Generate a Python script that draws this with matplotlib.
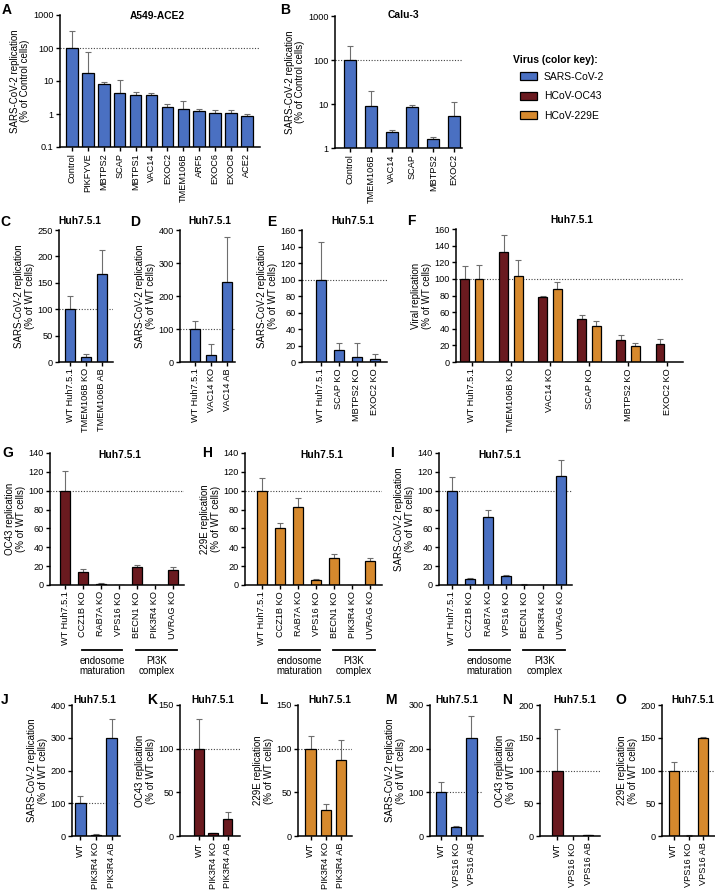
import matplotlib
matplotlib.use('Agg')
import matplotlib.pyplot as plt
import matplotlib.transforms as mtrans
from matplotlib.patches import Patch
import numpy as np

plt.rcParams['font.family'] = ['Liberation Sans', 'DejaVu Sans']
plt.rcParams['font.size'] = 6.5

W, H = 715, 896
BLUE = '#4a70c2'
RED = '#6a1a1f'
ORANGE = '#d6892d'

# ---- data: bar means and the top of each (upper) error bar ----
a_labels = ['Control', 'PIKFYVE', 'MBTPS2', 'SCAP', 'MBTPS1', 'VAC14', 'EXOC2',
            'TMEM106B', 'ARF5', 'EXOC6', 'EXOC8', 'ACE2']
a_vals = [100, 18, 8.3, 4.4, 3.8, 3.8, 1.6, 1.45, 1.2, 1.1, 1.05, 0.9]
a_tops = [320, 75, 9.5, 11, 4.5, 4.3, 1.95, 2.4, 1.4, 1.3, 1.3, 1.0]

b_labels = ['Control', 'TMEM106B', 'VAC14', 'SCAP', 'MBTPS2', 'EXOC2']
b_vals = [100, 9.2, 2.3, 8.7, 1.6, 5.2]
b_tops = [205, 20, 2.6, 9.4, 1.8, 11]

c_labels = ['WT Huh7.5.1', 'TMEM106B KO', 'TMEM106B AB']
c_vals = [100, 9, 167]
c_tops = [125, 16, 213]

d_labels = ['WT Huh7.5.1', 'VAC14 KO', 'VAC14 AB']
d_vals = [100, 22, 243]
d_tops = [125, 55, 378]

e_labels = ['WT Huh7.5.1', 'SCAP KO', 'MBTPS2 KO', 'EXOC2 KO']
e_vals = [100, 15, 6, 4]
e_tops = [146, 23, 23, 10]

f_labels = ['WT Huh7.5.1', 'TMEM106B KO', 'VAC14 KO', 'SCAP KO', 'MBTPS2 KO', 'EXOC2 KO']
f_oc43 = [100, 132, 78, 52, 26, 22]
f_oc43_tops = [116, 153, 80, 56, 33, 28]
f_229e = [100, 104, 88, 43, 19, 0]
f_229e_tops = [117, 123, 96, 49, 23, 0]

ghi_labels = ['WT Huh7.5.1', 'CCZ1B KO', 'RAB7A KO', 'VPS16 KO', 'BECN1 KO', 'PIK3R4 KO', 'UVRAG KO']
g_vals = [100, 14, 1.5, 0, 19, 0, 16]
g_tops = [121, 17.5, 2, 0, 21, 0, 19]
h_vals = [100, 60, 83, 5, 29, 0, 25]
h_tops = [113, 66, 92, 6.5, 33, 0, 29]
i_vals = [100, 6.5, 72, 9.5, 0.5, 0, 116]
i_tops = [115, 7.5, 80, 11, 1, 0, 133]
groups = ['endosome\nmaturation', 'PI3K\ncomplex']

pik_labels = ['WT', 'PIK3R4 KO', 'PIK3R4 AB']
j_vals = [100, 4, 300]
j_tops = [123, 6, 358]
k_vals = [100, 3, 20]
k_tops = [134, 4, 28]
l_vals = [100, 30, 87]
l_tops = [114, 37, 110]

vps_labels = ['WT', 'VPS16 KO', 'VPS16 AB']
m_vals = [100, 20, 224]
m_tops = [124, 24, 275]
n_vals = [100, 0, 1.5]
n_tops = [163, 0, 2]
o_vals = [100, 0.5, 149]
o_tops = [113, 1, 151]

lab_ctrl = 'SARS-CoV-2 replication\n(% of Control cells)'
lab_sars = 'SARS-CoV-2 replication\n(% of WT cells)'
lab_oc43 = 'OC43 replication\n(% of WT cells)'
lab_229e = '229E replication\n(% of WT cells)'
lab_viral = 'Viral replication\n(% of WT cells)'

fig = plt.figure(figsize=(W / 100, H / 100), dpi=100)


def px_axes(l, t, r, b):
    return fig.add_axes([l / W, 1 - b / H, (r - l) / W, (b - t) / H])


def put_bars(ax, x, vals, tops, color, width):
    ax.bar(x, vals, width=width, color=color, edgecolor='black', linewidth=0.9, zorder=2)
    keep = [i for i in range(len(vals)) if tops[i] > vals[i]]
    ax.errorbar([x[i] for i in keep], [vals[i] for i in keep],
                yerr=[[0] * len(keep), [tops[i] - vals[i] for i in keep]],
                fmt='none', ecolor='#6e6e6e', elinewidth=0.8, capsize=2.2,
                capthick=0.8, zorder=1.8)


def style(ax, xlim, ylim, yticks, ticklabels, xticks, ylabel, ytlabels=None):
    for s in ['top', 'right']:
        ax.spines[s].set_visible(False)
    for s in ['left', 'bottom']:
        ax.spines[s].set_linewidth(1.1)
    ax.axhline(100, ls=(0, (1, 1.5)), color='#444444', lw=0.8, zorder=0.5)
    ax.set_xlim(*xlim)
    ax.set_ylim(*ylim)
    ax.set_yticks(yticks)
    if ytlabels is not None:
        ax.set_yticklabels(ytlabels)
    ax.minorticks_off()
    ax.set_xticks(xticks)
    ax.set_xticklabels(ticklabels, rotation=90)
    ax.tick_params(length=3, width=1, pad=1.5, labelsize=6.6)
    ax.set_ylabel(ylabel, fontsize=7, labelpad=2, linespacing=1.1)


def title(x, y, s):
    fig.text(x / W, 1 - y / H, s, ha='center', va='center', fontsize=7.4, weight='bold')


def letter(x, y, s):
    fig.text(x / W, 1 - y / H, s, ha='left', va='center', fontsize=10, weight='bold')


def simple(box, labels, vals, tops, color, xlim, ylim, yticks, ylabel, width, ytl=None):
    ax = px_axes(*box)
    x = np.arange(len(labels))
    put_bars(ax, x, vals, tops, color, width)
    style(ax, xlim, ylim, yticks, labels, x, ylabel, ytl)
    return ax


# ---- row 1 ----
ax = simple((60, 15, 260, 147), a_labels, a_vals, a_tops, BLUE, (-0.75, 11.82),
            (0.1, 1000), [0.1, 1, 10, 100, 1000], lab_ctrl, 0.73,
            ['0.1', '1', '10', '100', '1000'])
ax.set_yscale('log')
ax.set_ylim(0.1, 1000)
ax.set_yticks([0.1, 1, 10, 100, 1000], ['0.1', '1', '10', '100', '1000'])
ax.minorticks_off()
title(157, 16, 'A549-ACE2')
letter(2, 10, 'A')

ax = simple((335, 16, 462, 148), b_labels, b_vals, b_tops, BLUE, (-0.72, 5.38),
            (1, 1000), [1, 10, 100, 1000], lab_ctrl, 0.58)
ax.set_yscale('log')
ax.set_ylim(1, 1000)
ax.set_yticks([1, 10, 100, 1000], ['1', '10', '100', '1000'])
ax.minorticks_off()
title(403, 15, 'Calu-3')
letter(280, 10, 'B')

# legend (colour key)
fig.text(513 / W, 1 - 60 / H, 'Virus (color key):', ha='left', va='center',
         fontsize=7.5, weight='bold')
handles = [Patch(facecolor=c, edgecolor='black', linewidth=0.9, label=n)
           for c, n in zip([BLUE, RED, ORANGE], ['SARS-CoV-2', 'HCoV-OC43', 'HCoV-229E'])]
fig.legend(handles=handles, loc='upper left', bbox_to_anchor=(520 / W, 1 - 72 / H),
           frameon=False, fontsize=7.5, handlelength=1.6, handleheight=0.8,
           labelspacing=0.9, handletextpad=0.7, borderpad=0, borderaxespad=0)

# ---- row 2 ----
simple((59, 230, 113, 362), c_labels, c_vals, c_tops, BLUE, (-0.69, 2.69),
       (0, 250), np.arange(0, 251, 50), lab_sars, 0.62)
title(80, 221, 'Huh7.5.1')
letter(0, 222, 'C')

simple((180, 230, 235, 362), d_labels, d_vals, d_tops, BLUE, (-0.94, 2.5),
       (0, 400), np.arange(0, 401, 100), lab_sars, 0.62)
title(210, 221, 'Huh7.5.1')
letter(130, 222, 'D')

simple((302, 230, 387, 362), e_labels, e_vals, e_tops, BLUE, (-1.03, 3.67),
       (0, 160), np.arange(0, 161, 20), lab_sars, 0.55)
title(353, 221, 'Huh7.5.1')
letter(267, 222, 'E')

ax = px_axes(456, 229, 683, 362)
x = np.arange(len(f_labels))
put_bars(ax, x - 0.19, f_oc43, f_oc43_tops, RED, 0.21)
keep = [i for i in range(len(f_229e)) if f_229e[i] > 0]
put_bars(ax, x[keep] + 0.19, [f_229e[i] for i in keep], [f_229e_tops[i] for i in keep], ORANGE, 0.21)
style(ax, (-0.41, 5.41), (0, 160), np.arange(0, 161, 20), f_labels, x, lab_viral)
title(572, 220, 'Huh7.5.1')
letter(407, 221, 'F')

# ---- row 3 ----
row3 = [((50, 453, 184, 585), g_vals, g_tops, RED, (-0.84, 6.64), lab_oc43, 120, 'G', 2),
        ((245, 453, 382, 585), h_vals, h_tops, ORANGE, (-0.94, 6.64), lab_229e, 322, 'H', 202),
        ((439, 453, 572, 585), i_vals, i_tops, BLUE, (-0.7, 6.62), lab_sars, 500, 'I', 390)]
for box, vals, tops, col, xl, yl, tx, let, lx in row3:
    ax = simple(box, ghi_labels, vals, tops, col, xl, (0, 140), np.arange(0, 141, 20), yl, 0.56)
    title(tx, 455, 'Huh7.5.1')
    letter(lx, 453, let)
    tr = mtrans.blended_transform_factory(ax.transData, fig.transFigure)
    for (x0, x1), g in zip([(0.95, 3.2), (3.95, 6.25)], groups):
        ax.plot([x0, x1], [1 - 650 / H] * 2, color='black', lw=1.3, transform=tr, clip_on=False)
        ax.text((x0 + x1) / 2, 1 - 656 / H, g, transform=tr, ha='center', va='top',
                fontsize=7, linespacing=1.05)

# ---- row 4 ----
row4 = [((72, 705, 120, 836), pik_labels, j_vals, j_tops, BLUE, (-0.52, 2.52), 400, 100, lab_sars, 95, 'J', 1),
        ((180, 705, 240, 836), pik_labels, k_vals, k_tops, RED, (-1.33, 2.87), 150, 50, lab_oc43, 213, 'K', 147),
        ((298, 705, 352, 836), pik_labels, l_vals, l_tops, ORANGE, (-0.83, 2.73), 150, 50, lab_229e, 330, 'L', 259),
        ((430, 705, 483, 836), vps_labels, m_vals, m_tops, BLUE, (-0.72, 2.76), 300, 100, lab_sars, 457, 'M', 385),
        ((540, 705, 600, 836), vps_labels, n_vals, n_tops, RED, (-1.14, 2.78), 200, 50, lab_oc43, 575, 'N', 502),
        ((662, 705, 715, 836), vps_labels, o_vals, o_tops, ORANGE, (-0.78, 2.78), 200, 50, lab_229e, 693, 'O', 615)]
for box, labels, vals, tops, col, xl, ymax, step, yl, tx, let, lx in row4:
    simple(box, labels, vals, tops, col, xl, (0, ymax), np.arange(0, ymax + 1, step), yl, 0.68)
    title(tx, 700, 'Huh7.5.1')
    letter(lx, 700, let)

fig.savefig('out.png', dpi=100, facecolor='white')
